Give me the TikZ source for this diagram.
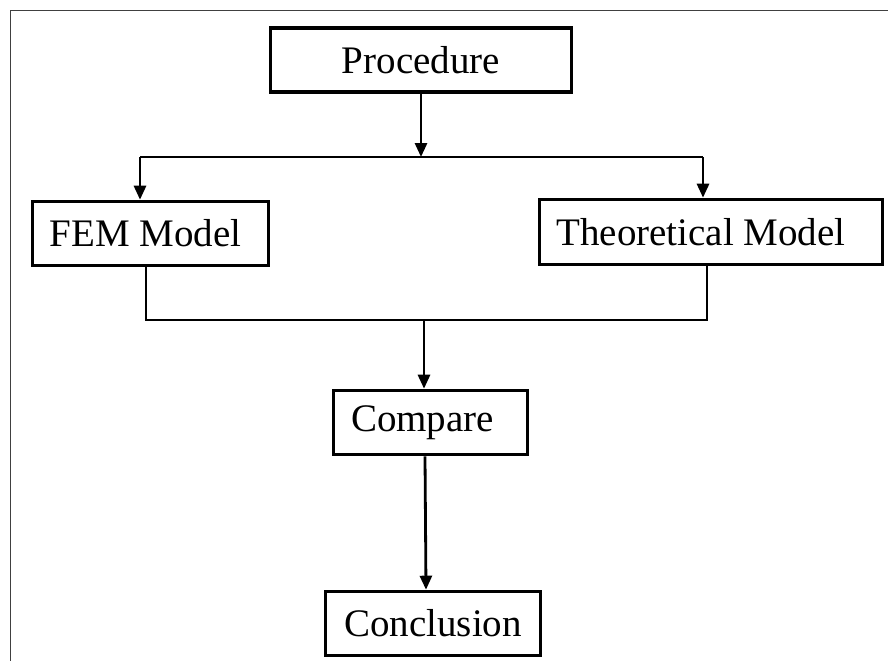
\documentclass[tikz,border=0pt]{standalone}
\usepackage{fontspec}
\setmainfont{Liberation Serif}
\usepackage{tikz}
\usetikzlibrary{arrows.meta,calc}
\tikzset{
	blk/.style={draw, line width=1.8pt, minimum height=32pt, inner sep=0pt,
		align=center, font=\fontsize{19.5}{22}\selectfont},
	conn/.style={line width=1.4pt},
	frm/.style={draw=black!75, line width=0.9pt},
}
\begin{document}
\begin{tikzpicture}[x=0.5pt, y=-0.5pt, >={Triangle[length=7pt,width=6pt]}]
				\useasboundingbox (0,0) rectangle (888,661);
				\draw[frm] (888,10.5) -- (10.5,10.5) -- (10.5,661);
				\node[blk, minimum width=150.5pt] at (421,60) (proc) {Procedure};
				\node[blk, minimum width=118pt] at (150.5,233.5) (fem) {FEM Model\hspace*{5pt}};
				\node[blk, minimum width=171.5pt, minimum height=32.5pt] at (711,232) (theo) {Theoretical Model\hspace*{10pt}};
				\node[blk, minimum width=97pt] at (430.5,422.5) (comp) {Compare\hspace*{8pt}};
				\node[blk, minimum width=107.5pt] at (433,623.5) (concl) {Conclusion};
				\coordinate (splitL) at (140,157);
				\coordinate (splitR) at (703,157);
				\coordinate (joinL) at (146,320);
				\coordinate (joinR) at (707,320);
				\coordinate (joinM) at (424,320);
				\draw[conn, ->] (proc.south) -- (proc.south |- splitL);
				\draw[conn] (splitL) -- (splitR);
				\draw[conn, ->] (splitL) -- (splitL |- fem.north);
				\draw[conn, ->] (splitR) -- (splitR |- theo.north);
				\draw[conn] (joinL |- fem.south) -- (joinL) -- (joinR) -- (joinR |- theo.south);
				\draw[conn, ->] (joinM) -- (joinM |- comp.north);
				\draw[conn, ->] ($(comp.south)+(-5.5,0)$) -- ($(concl.north)+(-7,0)$);
			\end{tikzpicture}
\end{document}
